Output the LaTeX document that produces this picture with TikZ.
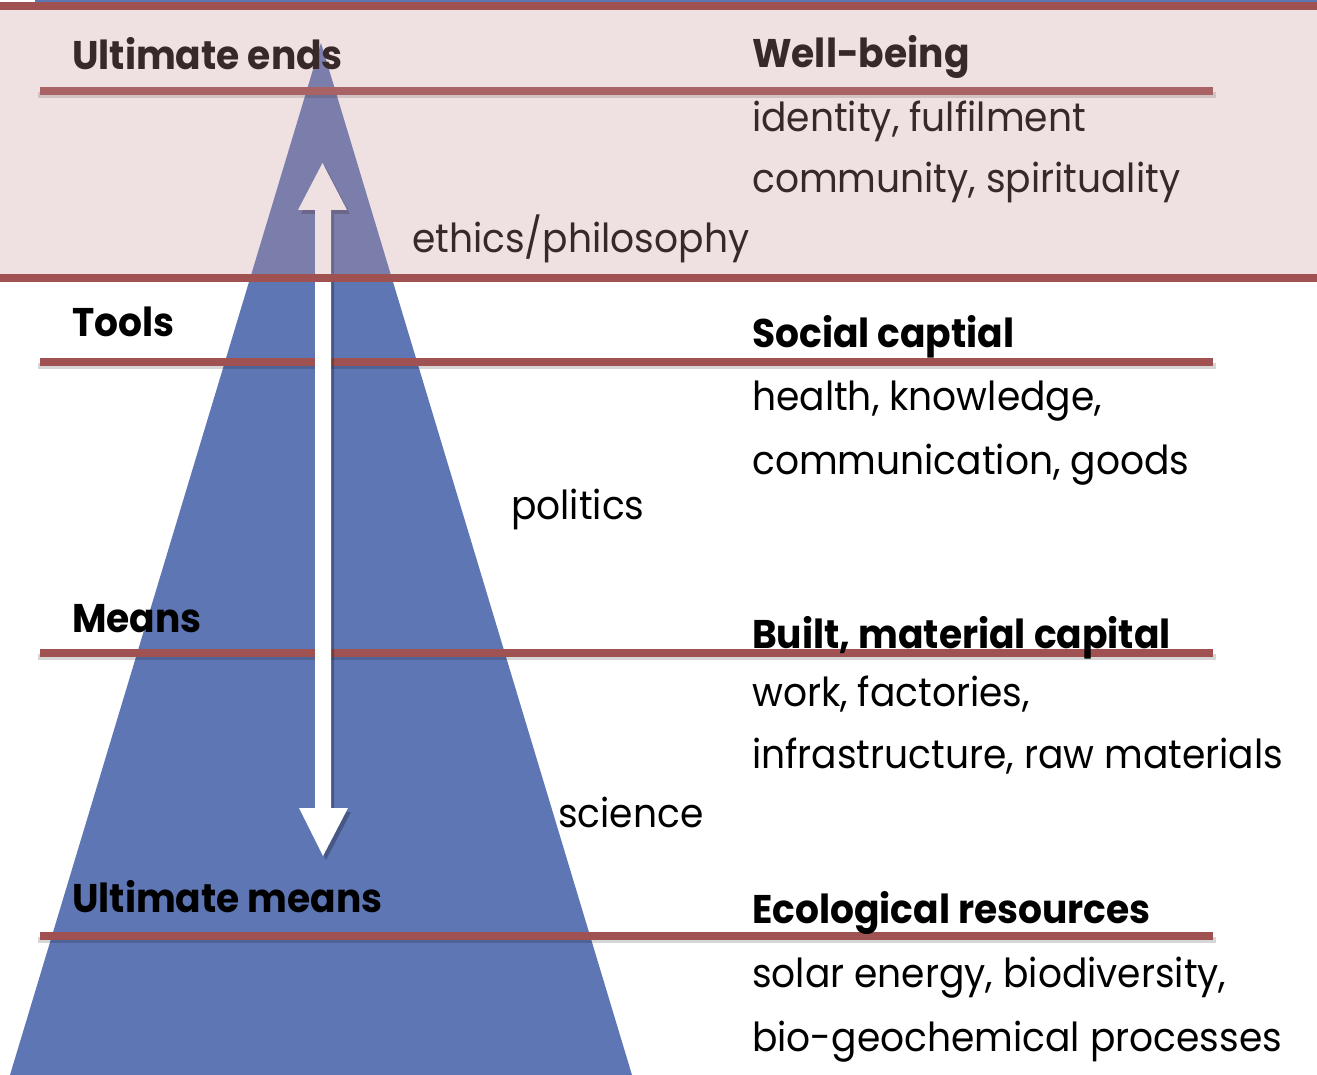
\documentclass[tikz,border=0pt]{standalone}
\usepackage{fontspec}
\setmainfont[FakeStretch=0.94]{Poppins}
\definecolor{tri}{RGB}{95,118,181}
\definecolor{bandred}{RGB}{160,82,82}
\definecolor{pinkov}{RGB}{198,144,148}
\definecolor{pinktxt}{RGB}{55,40,41}
\tikzset{
  lbl/.style={anchor=base west, inner sep=0pt, font=\fontsize{40}{48}\selectfont},
  hd/.style={anchor=base west, inner sep=0pt, font=\fontsize{40}{48}\selectfont\bfseries},
  rline/.style={draw=bandred, line width=8pt},
  lshadow/.style={draw=black, line width=6pt, opacity=0.16},
}
\begin{document}
\begin{tikzpicture}[x=1pt,y=-1pt]
\useasboundingbox (0,0) rectangle (1317,1075);
\fill[white] (0,0) rectangle (1317,1075);
\fill[tri] (35,0) rectangle (1317,2);
% pyramid
\coordinate (apex) at (321,43);
\coordinate (bl) at (10,1075);
\coordinate (br) at (632,1075);
\fill[tri] (apex) -- (br) -- (bl) -- cycle;
% separator lines with shadows
\foreach \yy in {91,362,653,936}{
  \draw[lshadow] (38,\yy+4) -- (1216,\yy+4);
  \draw[rline] (40,\yy) -- (1213,\yy);
}
% double arrow
\fill[black, opacity=0.25] ([shift={(3,4)}]322.5,163) -- ++(24.5,47) -- ++(-16,0) -- ++(0,598) -- ++(17,0) -- ++(-25,48) -- ++(-24,-48) -- ++(16,0) -- ++(0,-598) -- ++(-17,0) -- cycle;
\fill[white] (322.5,163) -- ++(24.5,47) -- ++(-16,0) -- ++(0,598) -- ++(17,0) -- ++(-25,48) -- ++(-24,-48) -- ++(16,0) -- ++(0,-598) -- ++(-17,0) -- cycle;
% pink band overlay
\fill[pinkov, fill opacity=0.28] (-5,6) rectangle (1322,278);
\draw[rline] (-5,6) -- (1322,6);
\draw[rline] (-5,278) -- (1322,278);
\fill[white] (23,0) rectangle (34,2);
% texts
\node[hd, text=pinktxt] (t1) at (72,70) {Ultimate ends};
\node[hd, text=pinktxt] (t2) at (752,68) {Well-being};
\node[lbl, text=pinktxt] (t3) at (752,132) {identity, fulfilment};
\node[lbl, text=pinktxt] (t4) at (752,193) {community, spirituality};
\node[lbl, text=pinktxt] (t5) at (412,253) {ethics/philosophy};
\node[hd] (t6) at (72,337) {Tools};
\node[hd] (t7) at (752,347) {Social captial};
\node[lbl] (t8) at (752,410) {health, knowledge,};
\node[lbl] (t9) at (752,474) {communication, goods};
\node[lbl] (t10) at (511,519) {politics};
\node[hd] (t11) at (72,632) {Means};
\node[hd] (t12) at (752,648) {Built, material capital};
\node[lbl] (t13) at (752,706) {work, factories,};
\node[lbl] (t14) at (752,768) {infrastructure, raw materials};
\node[lbl] (t15) at (558,827) {science};
\node[hd] (t16) at (72,912) {Ultimate means};
\node[hd] (t17) at (752,923) {Ecological resources};
\node[lbl] (t18) at (752,987) {solar energy, biodiversity,};
\node[lbl] (t19) at (752,1051) {bio-geochemical processes};
\end{tikzpicture}
\end{document}
